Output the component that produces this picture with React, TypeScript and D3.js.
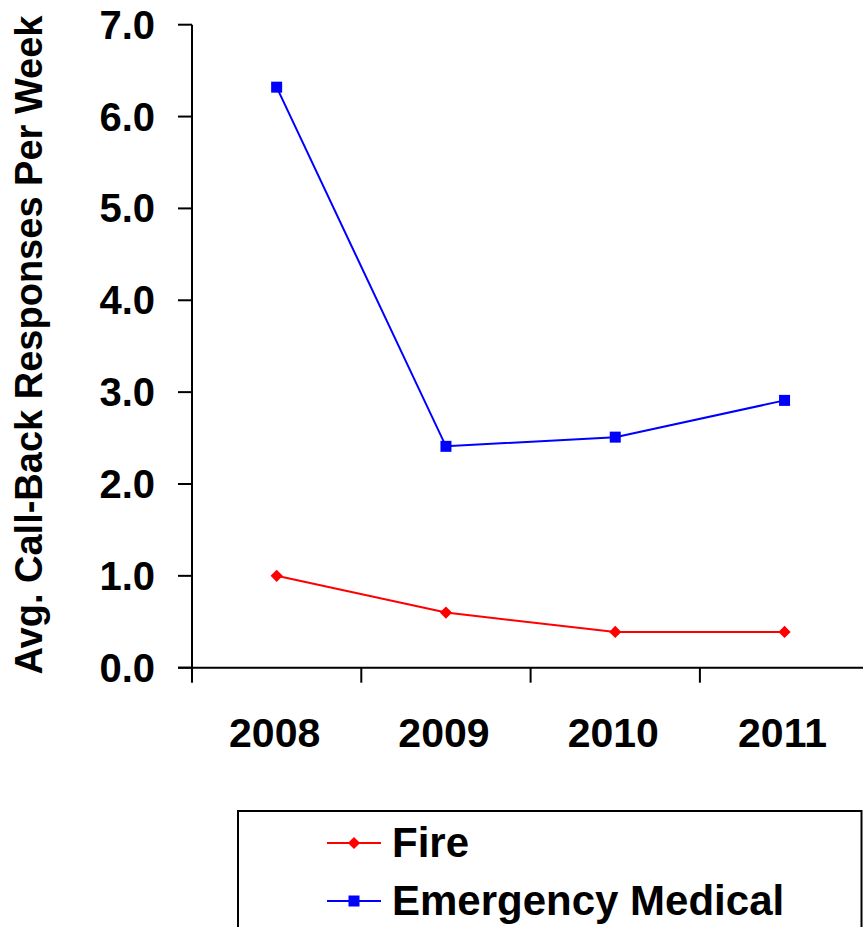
import React, { useEffect, useRef } from "react";
import * as d3 from "d3";

const years = ["2008", "2009", "2010", "2011"];
const fireValues = [1.0, 0.6, 0.39, 0.39];
const emsValues = [6.32, 2.41, 2.51, 2.91];
const yTicks = [0, 1, 2, 3, 4, 5, 6, 7];
const seriesNames = ["Fire", "Emergency Medical"];
const yTitle = "Avg. Call-Back Responses Per Week";

const W = 863;
const H = 927;
const FONT = "'Liberation Sans', Arial, Helvetica, sans-serif";

export default function App() {
  const ref = useRef<SVGSVGElement | null>(null);

  useEffect(() => {
    const svg = d3.select(ref.current);
    svg.selectAll("*").remove();

    const left = 192;
    const band = 169.3;
    const top = 24.7;
    const bottom = 667.7;

    const x = d3.scaleBand<string>().domain(years).range([left, left + band * years.length]);
    const y = d3.scaleLinear().domain([0, 7]).range([bottom, top]);

    const g = svg.append("g");

    // y axis line and ticks
    g.append("line")
      .attr("x1", left).attr("x2", left)
      .attr("y1", y(7)).attr("y2", y(0))
      .attr("stroke", "#000").attr("stroke-width", 2);
    yTicks.forEach((t) => {
      g.append("line")
        .attr("x1", left - 14).attr("x2", left)
        .attr("y1", y(t)).attr("y2", y(t))
        .attr("stroke", "#000").attr("stroke-width", 2);
      g.append("text")
        .attr("x", 155).attr("y", y(t) + 14)
        .attr("text-anchor", "end")
        .attr("font-family", FONT).attr("font-weight", "bold").attr("font-size", 40)
        .text(d3.format(".1f")(t));
    });

    // x axis
    g.append("line")
      .attr("x1", left - 14).attr("x2", W)
      .attr("y1", y(0)).attr("y2", y(0))
      .attr("stroke", "#000").attr("stroke-width", 2);
    [...years.map((yr) => x(yr) as number), left + band * years.length].forEach((px) => {
      g.append("line")
        .attr("x1", px).attr("x2", px)
        .attr("y1", y(0)).attr("y2", y(0) + 15)
        .attr("stroke", "#000").attr("stroke-width", 2);
    });
    years.forEach((yr) => {
      g.append("text")
        .attr("x", (x(yr) as number) + x.bandwidth() / 2 - 2)
        .attr("y", 747)
        .attr("text-anchor", "middle")
        .attr("font-family", FONT).attr("font-weight", "bold").attr("font-size", 41)
        .text(yr);
    });

    // y title
    g.append("text")
      .attr("transform", `translate(42,345) rotate(-90)`)
      .attr("text-anchor", "middle")
      .attr("font-family", FONT).attr("font-weight", "bold").attr("font-size", 38)
      .text(yTitle);

    const cx = (i: number) => (x(years[i]) as number) + x.bandwidth() / 2;
    const line = d3.line<number>().x((_, i) => cx(i)).y((v) => y(v));

    // Fire
    g.append("path").attr("d", line(fireValues) as string)
      .attr("fill", "none").attr("stroke", "#FF0000").attr("stroke-width", 2);
    const diamond = d3.symbol().type(d3.symbolDiamond2).size(95);
    fireValues.forEach((v, i) => {
      g.append("path").attr("d", diamond() as string)
        .attr("transform", `translate(${cx(i)},${y(v)})`)
        .attr("fill", "#FF0000");
    });

    // EMS
    g.append("path").attr("d", line(emsValues) as string)
      .attr("fill", "none").attr("stroke", "#0000FF").attr("stroke-width", 2);
    emsValues.forEach((v, i) => {
      g.append("rect")
        .attr("x", cx(i) - 5.5).attr("y", y(v) - 5.5)
        .attr("width", 11).attr("height", 11)
        .attr("fill", "#0000FF");
    });

    // legend
    const lg = svg.append("g");
    lg.append("rect")
      .attr("x", 238).attr("y", 811)
      .attr("width", 623.5).attr("height", 130)
      .attr("fill", "#fff").attr("stroke", "#000").attr("stroke-width", 2);
    const colors = ["#FF0000", "#0000FF"];
    const rowY = [843, 901];
    const baseY = [857, 915];
    seriesNames.forEach((name, i) => {
      lg.append("line")
        .attr("x1", 327).attr("x2", 381)
        .attr("y1", rowY[i]).attr("y2", rowY[i])
        .attr("stroke", colors[i]).attr("stroke-width", 2);
      if (i === 0) {
        lg.append("path").attr("d", diamond() as string)
          .attr("transform", `translate(354,${rowY[i]})`)
          .attr("fill", colors[i]);
      } else {
        lg.append("rect")
          .attr("x", 354 - 5.5).attr("y", rowY[i] - 5.5)
          .attr("width", 11).attr("height", 11)
          .attr("fill", colors[i]);
      }
      lg.append("text")
        .attr("x", 392).attr("y", baseY[i])
        .attr("font-family", FONT).attr("font-weight", "bold").attr("font-size", 42)
        .text(name);
    });
  }, []);

  return (
    <svg
      ref={ref}
      width={W}
      height={H}
      style={{ position: "absolute", left: 0, top: 0, background: "#fff" }}
    />
  );
}
